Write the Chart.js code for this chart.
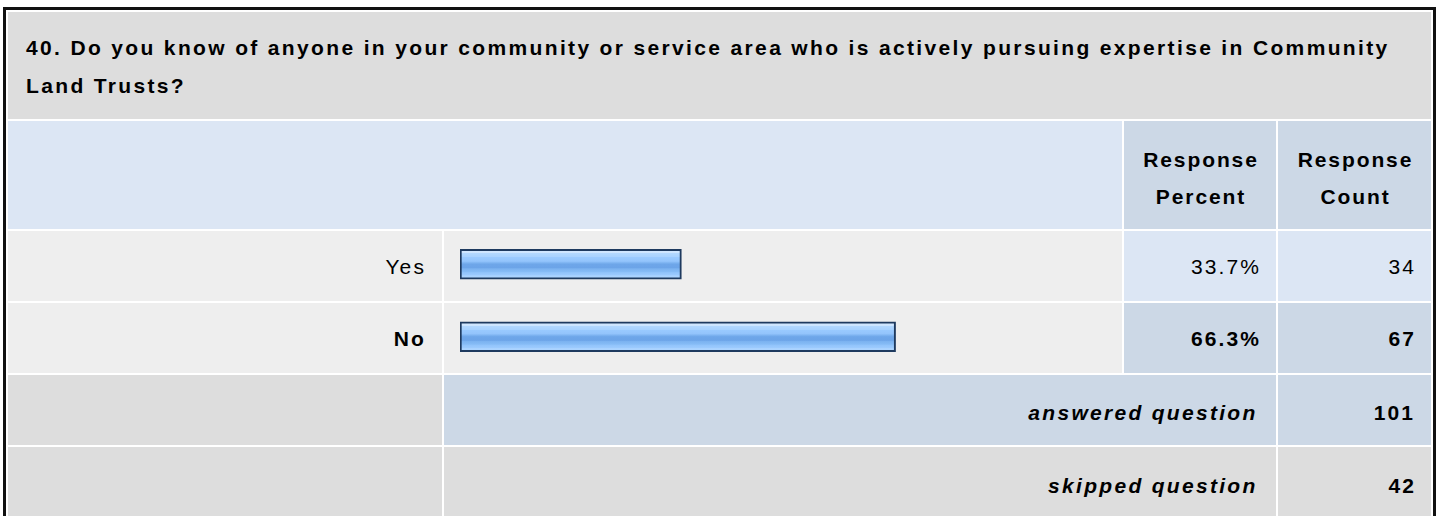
<!DOCTYPE html>
<html><head><meta charset="utf-8">
<script src="https://cdn.jsdelivr.net/npm/chart.js@4.4.1/dist/chart.umd.min.js"></script>
<style>
html,body{margin:0;padding:0;background:#fff;width:1440px;height:516px;overflow:hidden;font-family:"Liberation Sans",Arial,Helvetica,sans-serif;}
#root{position:relative;width:1440px;height:516px;}
.frame{position:absolute;left:3px;top:7px;width:1427px;height:530px;border:3px solid #111;border-bottom:none;}
.cell{position:absolute;}
.t{position:absolute;font-size:21px;letter-spacing:2.1px;color:#000;white-space:nowrap;line-height:37.7px;}
.b{font-weight:bold;}
.i{font-style:italic;}
#c{position:absolute;left:444px;top:228px;}
</style></head>
<body><div id="root"><div class="frame"></div></div>
<script>
// ---- data ----
const questionLine1 = "40. Do you know of anyone in your community or service area who is actively pursuing expertise in Community";
const questionLine2 = "Land Trusts?";
const headerPercent = ["Response", "Percent"];
const headerCount = ["Response", "Count"];
const categories = ["Yes", "No"];
const percents = [33.7, 66.3];
const counts = [34, 67];
const answeredLabel = "answered question";
const skippedLabel = "skipped question";
const answeredCount = 101;
const skippedCount = 42;

// ---- layout helpers ----
const root = document.getElementById('root');
function cell(x1, y1, x2, y2, color) {
  const d = document.createElement('div');
  d.className = 'cell';
  d.style.left = x1 + 'px'; d.style.top = y1 + 'px';
  d.style.width = (x2 - x1) + 'px'; d.style.height = (y2 - y1) + 'px';
  d.style.background = color;
  root.appendChild(d);
}
function text(str, opts) {
  const d = document.createElement('div');
  d.className = 't' + (opts.bold ? ' b' : '') + (opts.italic ? ' i' : '');
  if (opts.size) d.style.fontSize = opts.size + 'px';
  if (opts.ls !== undefined) d.style.letterSpacing = opts.ls + 'px';
  d.style.top = opts.top + 'px';
  if (opts.align === 'right') { d.style.right = (1440 - opts.right) + 'px'; d.style.textAlign = 'right'; }
  else if (opts.align === 'center') { d.style.left = opts.x1 + 'px'; d.style.width = (opts.x2 - opts.x1) + 'px'; d.style.textAlign = 'center'; }
  else { d.style.left = opts.left + 'px'; }
  d.textContent = str;
  root.appendChild(d);
}

const GRAY_D = '#DDDDDD', GRAY_L = '#EEEEEE', BLUE_L = '#DCE6F4', BLUE_D = '#CCD8E6';
const X0 = 8, XL = 442, XB = 444, XBE = 1122, XP = 1124, XPE = 1276, XC = 1278, XCE = 1431;

// title
cell(X0, 12, XCE, 119, GRAY_D);
text(questionLine1, {left: 26, top: 28.9, bold: true, ls: 2.35});
text(questionLine2, {left: 26, top: 66.6, bold: true, ls: 2.35});

// header
cell(X0, 121, XBE, 229, BLUE_L);
cell(XP, 121, XPE, 229, BLUE_D);
cell(XC, 121, XCE, 229, BLUE_D);
text(headerPercent[0], {align: 'center', x1: XP + 1, x2: XPE + 1, top: 140.6, bold: true, ls: 1.9});
text(headerPercent[1], {align: 'center', x1: XP + 1, x2: XPE + 1, top: 178.1, bold: true, ls: 1.9});
text(headerCount[0], {align: 'center', x1: XC + 1, x2: XCE + 1, top: 140.6, bold: true, ls: 1.9});
text(headerCount[1], {align: 'center', x1: XC + 1, x2: XCE + 1, top: 178.1, bold: true, ls: 1.9});

// answer rows
const rowTops = [231, 303];
categories.forEach((cat, i) => {
  const y1 = rowTops[i], y2 = y1 + 70;
  const hl = i === 1;
  const bg = hl ? BLUE_D : BLUE_L;
  cell(X0, y1, XL, y2, GRAY_L);
  cell(XB, y1, XBE, y2, GRAY_L);
  cell(XP, y1, XPE, y2, bg);
  cell(XC, y1, XCE, y2, bg);
  const top = y1 + 17.4;
  text(cat, {align: 'right', right: 426, top, bold: hl});
  text(percents[i].toFixed(1) + '%', {align: 'right', right: 1261, top, bold: hl});
  text(String(counts[i]), {align: 'right', right: 1416, top, bold: hl});
});

// answered / skipped
cell(X0, 375, XL, 445, GRAY_D);
cell(XB, 375, XPE, 445, BLUE_D);
cell(XC, 375, XCE, 445, BLUE_D);
text(answeredLabel, {align: 'right', right: 1257.6, top: 393.9, bold: true, italic: true, ls: 2.3});
text(String(answeredCount), {align: 'right', right: 1415, top: 393.9, bold: true});

cell(X0, 447, XL, 530, GRAY_D);
cell(XB, 447, XPE, 530, GRAY_D);
cell(XC, 447, XCE, 530, GRAY_D);
text(skippedLabel, {align: 'right', right: 1257.6, top: 466.6, bold: true, italic: true, ls: 2.3});
text(String(skippedCount), {align: 'right', right: 1416, top: 466.6, bold: true});

// ---- chart (bars) ----
const canvas = document.createElement('canvas');
canvas.id = 'c';
canvas.width = XBE - XB; canvas.height = 145;
canvas.style.width = (XBE - XB) + 'px'; canvas.style.height = '145px';
root.appendChild(canvas);

function barFill(c) {
  const chart = c.chart;
  const ys = chart.scales && chart.scales.y;
  if (!ys || c.dataIndex === undefined) return '#9CCBFF';
  const yc = ys.getPixelForValue(c.dataIndex);
  if (!isFinite(yc)) return '#9CCBFF';
  const top = yc - 15;
  const g = chart.ctx.createLinearGradient(0, top, 0, top + 30);
  const stops = [
    [0.00, '#D4E9FF'], [0.13, '#CDE5FF'],
    [0.14, '#B2D8FF'], [0.26, '#A8D2FF'],
    [0.27, '#9ACAFF'], [0.40, '#93C4FC'],
    [0.43, '#86BAF5'], [0.47, '#77AEEE'],
    [0.50, '#6EA6E9'], [0.62, '#6CA4E8'],
    [0.65, '#7BB2F0'], [0.75, '#86BCF6'],
    [0.78, '#92C4FB'], [0.86, '#9BCAFE'],
    [0.88, '#A8D2FF'], [1.00, '#B0D6FF']
  ];
  stops.forEach(s => g.addColorStop(s[0], s[1]));
  return g;
}

new Chart(canvas, {
  type: 'bar',
  data: {
    labels: categories,
    datasets: [{
      data: percents,
      backgroundColor: barFill,
      borderColor: '#1E3A5F',
      borderWidth: 2,
      borderSkipped: false,
      barThickness: 30
    }]
  },
  options: {
    indexAxis: 'y',
    responsive: false,
    animation: false,
    devicePixelRatio: 1,
    events: [],
    layout: {padding: {left: 16, right: 5, top: 0, bottom: 0}},
    scales: {
      x: {display: false, min: 0, max: 100},
      y: {display: false}
    },
    plugins: {legend: {display: false}, tooltip: {enabled: false}}
  }
});
</script>
</body></html>
